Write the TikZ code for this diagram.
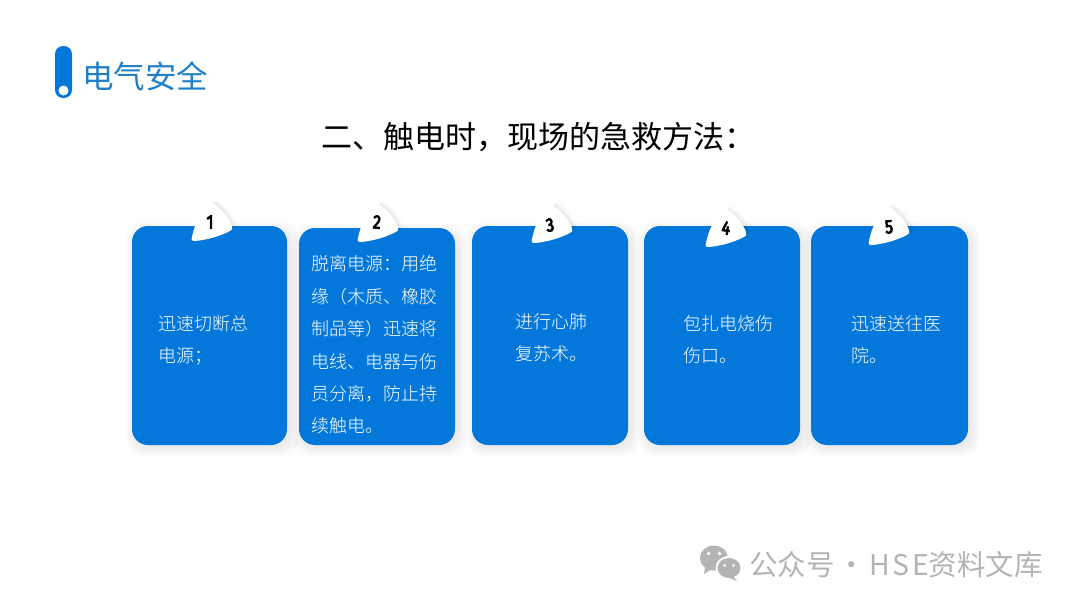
\documentclass[tikz,border=0pt]{standalone}
\usepackage{fontspec}
\setmainfont{Noto Sans CJK SC}
\newfontfamily\lightcjk{Noto Sans CJK SC Light}
\newfontfamily\numfont[FakeBold=4.5,FakeStretch=0.82]{Fira Sans}
\definecolor{cardblue}{HTML}{0477DB}
\definecolor{headblue}{HTML}{1F7FC8}
\definecolor{wmgray}{HTML}{B4B4B4}
\newcommand{\cardbox}[5]{%
  \foreach \g in {10,8,6,4,2}{
    \fill[black,opacity=0.016,rounded corners=17pt]
      ({#2-\g+4},{#3+6-\g}) rectangle ({#4+\g+2},{#5+\g+1});
  }
  \node[cardshape,minimum width={(#4-#2)*1pt},minimum height={(#5-#3)*1pt}] (#1) at ({(#2+#4)/2},{(#3+#5)/2}) {};
}
\tikzset{
  cardshape/.style={fill=cardblue,rounded corners=16pt,inner sep=0pt,draw=none},
  cardtext/.style={text=white,anchor=north west,align=left,inner sep=0pt,font=\lightcjk\fontsize{18}{32.4}\selectfont},
  numlabel/.style={text=black,inner sep=0pt,font=\numfont\fontsize{19}{19}\selectfont},
  watermark/.style={text=wmgray,inner sep=0pt,anchor=west},
}
\begin{document}
\begin{tikzpicture}[x=1pt,y=-1pt]
\useasboundingbox (0,0) rectangle (1080,608);
\fill[white] (0,0) rectangle (1080,608);

% header
\fill[cardblue,rounded corners=8pt] (55,46) rectangle (72,98);
\fill[white] (63.5,90.5) circle (5);
\node[text=headblue,inner sep=0pt,anchor=west,font=\fontsize{31.5}{31.5}\selectfont] (head) at (82,76) {电气安全};
\node[text=black,inner sep=0pt,anchor=west,font=\fontsize{31}{31}\selectfont] (title) at (321,137) {二、触电时，现场的急救方法：};

% cards
\cardbox{c1}{132}{226}{287}{445}
\cardbox{c2}{299}{228}{455}{445}
\cardbox{c3}{472}{226}{628}{445}
\cardbox{c4}{644}{226}{800}{445}
\cardbox{c5}{811}{226}{968}{445}

% tabs
\foreach \bx/\by in {192/241,358/242,532/243,706/247,869/245}{
  \begin{scope}[shift={(\bx,\by)}]
    \foreach \w/\o in {6/0.008,5/0.01,4/0.014,3/0.016,2/0.02,1/0.025}{
      \fill[black,opacity=\o] ({21+\w*.5},{-38-\w*.6}) .. controls ({31+\w},{-31-\w*.7}) and ({37+\w},{-23-\w*.5}) .. ({40+\w},{-15+\w*.1})
        -- ({38},{-8}) -- (18,-30) -- cycle;
    }
    \fill[white] (21,-38) .. controls (31,-31) and (37,-23) .. (40,-15)
      .. controls (41,-12) and (40,-11) .. (38,-10)
      .. controls (26,-4) and (14,-1) .. (3,0)
      .. controls (0,0) and (-1,-1) .. (0,-4)
      .. controls (3,-18) and (8,-30) .. (21,-38) -- cycle;
  \end{scope}
}
\node[numlabel] (n1) at (210,222) {1};
\node[numlabel,rotate=-5] (n2) at (377,222) {2};
\node[numlabel,rotate=8] (n3) at (550,225) {3};
\node[numlabel,rotate=-8] (n4) at (726,228) {4};
\node[numlabel,rotate=5] (n5) at (889,227) {5};

% card text
\node[cardtext] (t1) at (158,315) {迅速切断总\\电源；};
\node[cardtext] (t2) at (311,255.5) {脱离电源：用绝\\缘（木质、橡胶\\制品等）迅速将\\电线、电器与伤\\员分离，防止持\\续触电。};
\node[cardtext] (t3) at (515,313) {进行心肺\\复苏术。};
\node[cardtext] (t4) at (683,315) {包扎电烧伤\\伤口。};
\node[cardtext] (t5) at (851,315) {迅速送往医\\院。};

% watermark
\fill[wmgray] (714,558) ellipse (14 and 12.5);
\fill[wmgray] (705,567) -- (704,574) -- (712,569) -- cycle;
\fill[white] (729,568) ellipse (13.5 and 12);
\fill[wmgray] (729,568) ellipse (11.5 and 10);
\fill[wmgray] (733,576) -- (737,581) -- (727,577) -- cycle;
\fill[white] (708.5,553.5) circle (1.8);
\fill[white] (719.5,553.5) circle (1.8);
\fill[white] (724.5,565.5) circle (1.5);
\fill[white] (733.5,565.5) circle (1.5);
\node[watermark,font=\fontsize{28.5}{28.5}\selectfont] (wm) at (749,565) {公众号\hspace{3pt}·\hspace{3pt}{\addfontfeature{LetterSpace=9}HSE}资料文库};
\end{tikzpicture}
\end{document}
